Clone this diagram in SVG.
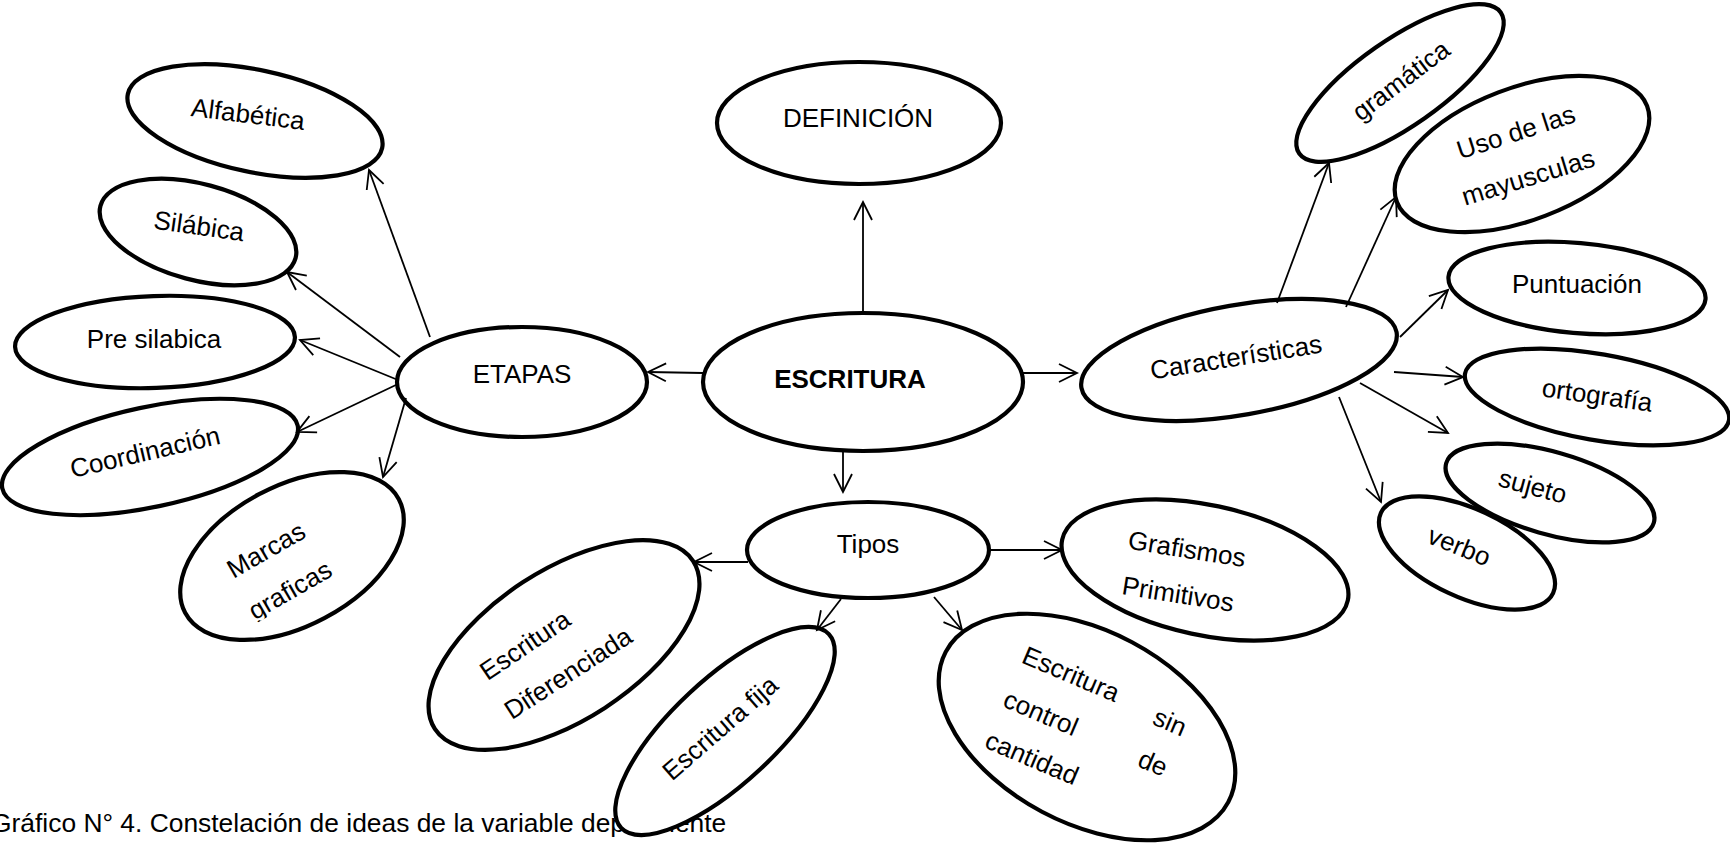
<svg xmlns="http://www.w3.org/2000/svg" width="1730" height="843" viewBox="0 0 1730 843">
<style>
.n{fill:#fff;stroke:#000;stroke-width:4.2}
.t{font-family:"Liberation Sans",Arial,sans-serif;font-size:26px;fill:#000;text-anchor:middle}
.b{font-weight:bold}
.c{stroke:#000;stroke-width:1.8;fill:none;marker-end:url(#a)}
</style>
<defs>
<marker id="a" markerUnits="userSpaceOnUse" markerWidth="24" markerHeight="24" viewBox="-20 -12 24 24" refX="0" refY="0" orient="auto" overflow="visible"><path d="M-18,-9 L0,0 L-18,9" fill="none" stroke="#000" stroke-width="1.8"/></marker>
<clipPath id="cm" clipPathUnits="userSpaceOnUse"><rect x="200" y="560" width="180" height="42"/></clipPath>
</defs>
<rect width="1730" height="843" fill="#fff"/>
<text id="caption" class="t" style="text-anchor:start;font-size:26.4px" x="-9" y="832">Gráfico N° 4. Constelación de ideas de la variable dependiente</text>
<g id="alfabetica"><ellipse class="n" cx="255" cy="121" rx="130" ry="51" transform="rotate(12 255 121)"/><text class="t" x="248" y="123" transform="rotate(7 248 114)">Alfabética</text></g>
<g id="silabica"><ellipse class="n" cx="198" cy="232" rx="101" ry="48" transform="rotate(15 198 232)"/><text class="t" x="199" y="235" transform="rotate(8 199 226)">Silábica</text></g>
<g id="presilabica"><ellipse class="n" cx="155" cy="342" rx="140" ry="46" transform="rotate(-2 155 342)"/><text class="t" x="154" y="348">Pre silabica</text></g>
<g id="coordinacion"><ellipse class="n" cx="150" cy="457" rx="151" ry="50" transform="rotate(-12 150 457)"/><text class="t" x="145" y="461" transform="rotate(-13 145 452)">Coordinación</text></g>
<g id="marcas"><ellipse class="n" cx="292" cy="556" rx="121" ry="70" transform="rotate(-28 292 556)"/><text class="t" x="266" y="559" transform="rotate(-30 266 550)">Marcas</text><text class="t" x="290" y="599" transform="rotate(-30 290 590)" clip-path="url(#cm)">graficas</text></g>
<g id="etapas"><ellipse class="n" cx="522" cy="382" rx="125" ry="55"/><text class="t" x="522" y="383">ETAPAS</text></g>
<g id="escritura"><ellipse class="n" cx="863" cy="382" rx="160" ry="69"/><text class="t b" x="850" y="388">ESCRITURA</text></g>
<g id="definicion"><ellipse class="n" cx="859" cy="123" rx="142" ry="61"/><text class="t" x="858" y="127">DEFINICIÓN</text></g>
<g id="tipos"><ellipse class="n" cx="868" cy="550" rx="121" ry="48"/><text class="t" x="868" y="553">Tipos</text></g>
<g id="diferenciada"><ellipse class="n" cx="564" cy="645" rx="154" ry="75" transform="rotate(-33 564 645)"/><text class="t" x="525" y="654" transform="rotate(-34 525 645)">Escritura</text><text class="t" x="568" y="682" transform="rotate(-33 568 673)">Diferenciada</text></g>
<g id="fija"><ellipse class="n" cx="725" cy="731" rx="142" ry="52" transform="rotate(-43 725 731)"/><text class="t" x="720" y="737" transform="rotate(-41 720 728)">Escritura fija</text></g>
<g id="sincontrol"><ellipse class="n" cx="1087" cy="727" rx="160" ry="96" transform="rotate(28 1087 727)"/>
<text class="t" x="1071" y="683" transform="rotate(23 1071 674)">Escritura</text>
<text class="t" x="1170" y="731" transform="rotate(23 1170 722)">sin</text>
<text class="t" x="1041" y="722" transform="rotate(23 1041 713)">control</text>
<text class="t" x="1153" y="772" transform="rotate(23 1153 763)">de</text>
<text class="t" x="1032" y="767" transform="rotate(23 1032 758)">cantidad</text></g>
<g id="grafismos"><ellipse class="n" cx="1205" cy="570" rx="146" ry="65" transform="rotate(12 1205 570)"/><text class="t" x="1187" y="558" transform="rotate(9 1187 549)">Grafismos</text><text class="t" x="1178" y="603" transform="rotate(9 1178 594)">Primitivos</text></g>
<g id="caracteristicas"><ellipse class="n" cx="1239" cy="360" rx="160" ry="55" transform="rotate(-10 1239 360)"/><text class="t" x="1236" y="366" transform="rotate(-9 1236 357)">Características</text></g>
<g id="gramatica"><ellipse class="n" cx="1400" cy="83" rx="123" ry="43" transform="rotate(-35 1400 83)"/><text class="t" x="1402" y="89" transform="rotate(-37 1402 82)">gramática</text></g>
<g id="uso"><ellipse class="n" cx="1522" cy="154" rx="134" ry="66" transform="rotate(-21 1522 154)"/><text class="t" x="1516" y="141" transform="rotate(-18 1516 132)">Uso de las</text><text class="t" x="1529" y="186" transform="rotate(-17 1529 180)">mayusculas</text></g>
<g id="puntuacion"><ellipse class="n" cx="1577" cy="288" rx="129" ry="45" transform="rotate(5 1577 288)"/><text class="t" x="1577" y="293">Puntuación</text></g>
<g id="ortografia"><ellipse class="n" cx="1597" cy="397" rx="134" ry="43" transform="rotate(10 1597 397)"/><text class="t" x="1597" y="404" transform="rotate(8 1597 397)">ortografía</text></g>
<g id="sujeto"><ellipse class="n" cx="1550" cy="493" rx="108" ry="41" transform="rotate(16 1550 493)"/><text class="t" x="1532" y="495" transform="rotate(15 1532 489)">sujeto</text></g>
<g id="verbo"><ellipse class="n" cx="1467" cy="553" rx="95" ry="44" transform="rotate(25 1467 553)"/><text class="t" x="1459" y="555" transform="rotate(22 1459 547)">verbo</text></g>
<g id="connectors">
<line class="c" x1="863" y1="312" x2="863" y2="202"/>
<line class="c" x1="703" y1="373" x2="648" y2="372"/>
<line class="c" x1="1023" y1="373" x2="1077" y2="373"/>
<line class="c" x1="843" y1="452" x2="843" y2="492"/>
<line class="c" x1="430" y1="337" x2="369" y2="170"/>
<line class="c" x1="400" y1="357" x2="287" y2="272"/>
<line class="c" x1="398" y1="380" x2="300" y2="340"/>
<line class="c" x1="398" y1="384" x2="297" y2="432"/>
<line class="c" x1="406" y1="398" x2="383" y2="477"/>
<line class="c" x1="748" y1="562" x2="694" y2="562"/>
<line class="c" x1="841" y1="599" x2="817" y2="630"/>
<line class="c" x1="934" y1="597" x2="962" y2="630"/>
<line class="c" x1="991" y1="550" x2="1062" y2="550"/>
<line class="c" x1="1277" y1="303" x2="1329" y2="163"/>
<line class="c" x1="1346" y1="307" x2="1396" y2="197"/>
<line class="c" x1="1400" y1="337" x2="1448" y2="290"/>
<line class="c" x1="1394" y1="372" x2="1463" y2="377"/>
<line class="c" x1="1360" y1="383" x2="1448" y2="433"/>
<line class="c" x1="1339" y1="397" x2="1381" y2="502"/>
</g>
</svg>
